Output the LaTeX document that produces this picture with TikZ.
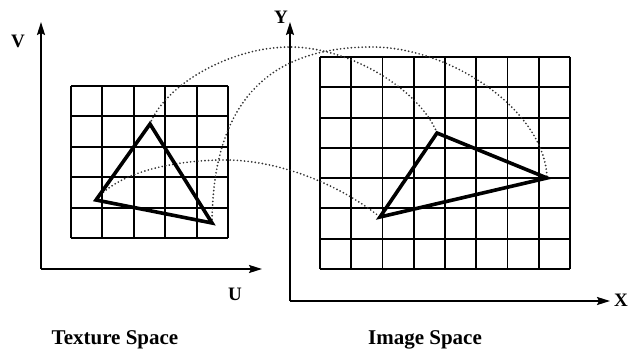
\documentclass[tikz,border=0pt]{standalone}
\usepackage{fontspec}
\setmainfont{Liberation Serif}
\usetikzlibrary{arrows.meta}
\tikzset{
  gridline/.style={line width=1.9pt, black},
  axisline/.style={line width=1.9pt, black, -{Stealth[length=13pt,width=8pt,inset=2pt]}},
  triline/.style={line width=3.6pt, black, line join=miter},
  dotline/.style={line width=1.9pt, black!80, dash pattern=on 0pt off 3.6pt, line cap=round},
  lbl/.style={font=\bfseries\fontsize{21}{21}\selectfont, inner sep=0pt},
  axlbl/.style={font=\bfseries\fontsize{19}{19}\selectfont, inner sep=0pt},
}
\begin{document}
\begin{tikzpicture}[x=1pt,y=-1pt]
\useasboundingbox (0,0) rectangle (631,352);
% texture grid
\foreach \i in {0,...,5} {
  \draw[gridline] ({71+\i*31.4},86) -- ({71+\i*31.4},238);
  \draw[gridline] (71,{86+\i*30.4}) -- (228,{86+\i*30.4});
}
% image grid
\foreach \i in {0,...,8} {
  \draw[gridline] ({320+\i*31.25},57) -- ({320+\i*31.25},269);
}
\foreach \j in {0,...,7} {
  \draw[gridline] (320,{57+\j*30.286}) -- (570,{57+\j*30.286});
}
% axes
\coordinate (o1) at (41,269);
\coordinate (v1) at (41,22);
\coordinate (u1) at (262,269);
\coordinate (o2) at (290,301);
\coordinate (y2) at (290,22);
\coordinate (x2) at (610,301);
\draw[axisline] (o1) -- (v1);
\draw[axisline] (o1) -- (u1);
\draw[axisline] (o2) -- (y2);
\draw[axisline] (o2) -- (x2);
\node[axlbl] (lv) at (18,41) {V};
\node[axlbl] (lu) at (235,294) {U};
\node[axlbl] (ly) at (281,17) {Y};
\node[axlbl] (lx) at (621,300) {X};
% triangle vertices
\coordinate (ta) at (150,124);
\coordinate (tb) at (96,200);
\coordinate (tc) at (212,223);
\coordinate (ia) at (437,133);
\coordinate (ib) at (380,217);
\coordinate (ic) at (547,178);
% dotted correspondences
\draw[dotline] (ta) .. controls (165,85) and (230,47) .. (290,47)
                    .. controls (350,47) and (420,90) .. (ia);
\draw[dotline] (tc) .. controls (213,90) and (280,47) .. (372,47)
                    .. controls (450,47) and (545,110) .. (ic);
\draw[dotline] (tb) .. controls (120,170) and (180,160) .. (225,160)
                    .. controls (280,160) and (340,185) .. (ib);
% triangles
\draw[triline] (ta) -- (tb) -- (tc) -- cycle;
\draw[triline] (ia) -- (ib) -- (ic) -- cycle;
% captions
\node[lbl, anchor=base] (cap1) at (115,344) {Texture Space};
\node[lbl, anchor=base] (cap2) at (425,344) {Image Space};
\end{tikzpicture}
\end{document}
